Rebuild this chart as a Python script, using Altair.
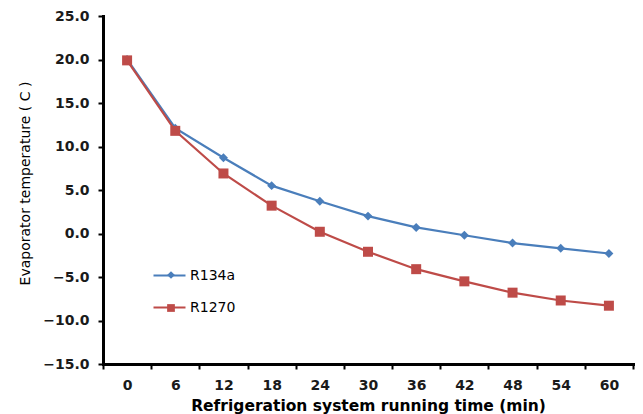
import altair as alt
import pandas as pd

times = ["0", "6", "12", "18", "24", "30", "36", "42", "48", "54", "60"]
r134a = [20.0, 12.1, 8.7, 5.5, 3.7, 2.0, 0.7, -0.2, -1.1, -1.7, -2.3]
r1270 = [19.9, 11.8, 6.9, 3.2, 0.2, -2.1, -4.1, -5.5, -6.8, -7.7, -8.3]
series = ["R134a", "R1270"]
colors = ["#4A7EBB", "#BE4B48"]
shapes = ["diamond", "square"]
y_ticks = [-15, -10, -5, 0, 5, 10, 15, 20, 25]

rows = []
for name, vals in zip(series, [r134a, r1270]):
    for t, v in zip(times, vals):
        rows.append({"time": t, "series": name, "name": name, "temp": v})
df = pd.DataFrame(rows)

FONT = "DejaVu Sans"

fill_expr = "datum.value === '%s' ? '%s' : '%s'" % (series[0], colors[0], colors[1])

x = alt.X(
    "time:O",
    sort=times,
    scale=alt.Scale(type="band", paddingInner=0, paddingOuter=0),
    axis=alt.Axis(
        title="Refrigeration system running time (min)",
        labelAngle=0,
        tickBand="extent",
        labelPadding=9,
        titleFont=FONT,
        titleFontWeight="bold",
        titleFontSize=15.5,
        titleBaseline="alphabetic",
        titleY=46,
    ),
)
y = alt.Y(
    "temp:Q",
    scale=alt.Scale(domain=[-15, 25], nice=False, zero=False),
    axis=alt.Axis(
        title="Evaporator temperature ( C )",
        values=y_ticks,
        format=".1f",
        labelPadding=9,
        titleFont=FONT,
        titleFontWeight="normal",
        titleFontSize=14,
        titleBaseline="middle",
        titleX=-78,
        titleY=167,
    ),
)

lines = alt.Chart(df).mark_line(strokeWidth=2.2).encode(
    x=x,
    y=y,
    color=alt.Color(
        "series:N",
        sort=series,
        scale=alt.Scale(range=colors),
        legend=alt.Legend(
            title=None,
            orient="none",
            legendX=49,
            legendY=242,
            symbolType="stroke",
            symbolSize=1024,
            symbolStrokeWidth=2.2,
            labelFont=FONT,
            labelFontSize=14,
            labelFontWeight="normal",
            labelColor="black",
            labelOffset=3,
            rowPadding=7,
            padding=0,
        ),
    ),
    detail="series:N",
)

points = alt.Chart(df).mark_point(filled=True, opacity=1, strokeWidth=0).encode(
    x=x,
    y=y,
    color=alt.Color("name:N", sort=series, scale=alt.Scale(range=colors), legend=None),
    shape=alt.Shape(
        "name:N",
        sort=series,
        scale=alt.Scale(range=shapes),
        legend=alt.Legend(
            title=None,
            orient="none",
            legendX=61,
            legendY=252,
            symbolSize=60,
            symbolStrokeWidth=0,
            symbolFillColor=alt.ExprRef(expr=fill_expr),
            labelExpr="''",
            labelFontSize=14,
            rowPadding=19,
            padding=0,
        ),
    ),
    size=alt.Size("name:N", sort=series, scale=alt.Scale(range=[80, 100]), legend=None),
)

chart = (
    alt.layer(lines, points)
    .resolve_scale(color="independent", shape="independent", size="independent")
    .resolve_legend(color="independent", shape="independent", size="independent")
    .properties(
        width=530,
        height=348,
        autosize=alt.AutoSizeParams(type="none"),
        padding={"left": 95, "top": 8, "right": 2, "bottom": 50},
        background="white",
    )
    .configure_view(stroke=None)
    .configure_axis(
        grid=False,
        domainColor="black",
        domainWidth=3,
        domainCap="square",
        tickColor="black",
        tickWidth=2,
        tickSize=5,
        labelFont=FONT,
        labelFontSize=14,
        labelFontWeight="bold",
        labelColor="#1a1a1a",
        titleColor="black",
    )
)

chart.save("out.html", embed_options={"renderer": "svg", "actions": False})
